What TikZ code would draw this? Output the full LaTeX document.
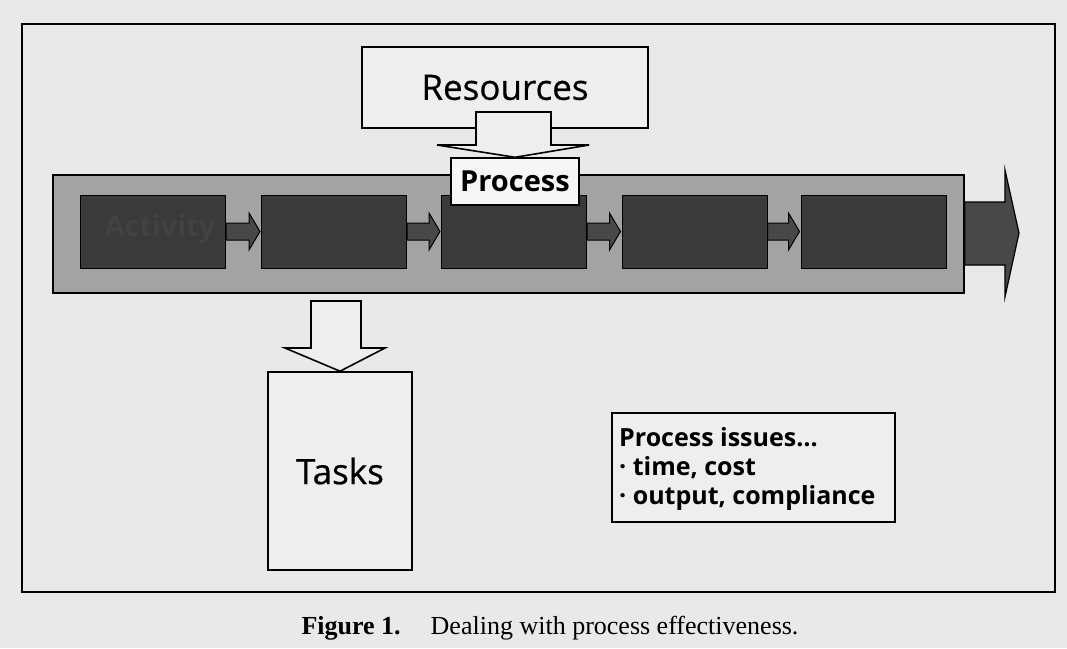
\documentclass[tikz,border=0pt]{standalone}
\usepackage{fontspec}
\setmainfont{Liberation Serif}
\newfontfamily\diagfont{Open Sans}
\newfontfamily\diagfontheavy[FakeBold=0.6]{Open Sans}
\usetikzlibrary{calc}
\definecolor{paper}{RGB}{233,233,233}
\definecolor{boxfill}{RGB}{238,238,238}
\definecolor{procfill}{RGB}{246,246,246}
\definecolor{bandgray}{RGB}{163,163,163}
\definecolor{darkbox}{RGB}{58,58,58}
\definecolor{darkarrow}{RGB}{72,72,72}
\definecolor{faint}{RGB}{66,66,66}
\tikzset{
  whitebox/.style={draw=black, line width=1.6pt, fill=boxfill, inner sep=0pt},
  actbox/.style={draw=black, line width=1pt, fill=darkbox, minimum width=145pt, minimum height=73pt, inner sep=0pt},
  darkarr/.style={draw=black, line width=1pt, fill=darkarrow, line join=miter},
  hollowarr/.style={draw=black, line width=1.6pt, fill=boxfill, line join=miter},
  big/.style={font=\diagfontheavy\fontsize{35}{40}\selectfont},
}
\begin{document}
\begin{tikzpicture}[x=1pt,y=-1pt]
\useasboundingbox (0,0) rectangle (1067,648);
\fill[paper] (0,0) rectangle (1067,648);
% outer frame
\draw[line width=2pt] (22,24) rectangle (1055,592);
% band
\node[draw=black, line width=1.4pt, fill=bandgray, minimum width=911pt, minimum height=118pt, inner sep=0pt] (band) at (508.5,234) {};
% activity boxes
\node[actbox] (a1) at (153,231.5) {};
\node[actbox] (a2) at (334,231.5) {};
\node[actbox] (a3) at (514,231.5) {};
\node[actbox] (a4) at (694.5,231.5) {};
\node[actbox] (a5) at (873.5,231.5) {};
\node[font=\diagfont\bfseries\fontsize{29}{30}\selectfont, text=faint] (acttext) at (160,229) {Activity};
% small arrows between boxes
\foreach \p/\q in {a1/a2,a2/a3,a3/a4,a4/a5}{
  \draw[darkarr] ($(\p.east)+(0,-8.5)$) -- ($(\q.west)+(-12,-8.5)$) -- ($(\q.west)+(-12,-18.5)$)
    -- ($(\q.west)+(-1,0)$) -- ($(\q.west)+(-12,18.5)$) -- ($(\q.west)+(-12,8.5)$) -- ($(\p.east)+(0,8.5)$) -- cycle;
}
% big output arrow
\coordinate (outtip) at (1019,233);
\draw[darkarr, line width=1.2pt] ($(band.east)+(0,-32)$) -- (1005,202) -- (1005,170) -- (outtip)
  -- (1005,297) -- (1005,265) -- ($(band.east)+(0,31)$) -- cycle;
% resources
\node[whitebox, minimum width=286pt, minimum height=81pt, big] (res) at (505,87.5) {Resources};
% process label
\node[draw=black, line width=1.4pt, fill=procfill, minimum width=128pt, minimum height=47pt, inner sep=0pt,
      font=\diagfont\bfseries\fontsize{29}{30}\selectfont] (proc) at (515,181.5) {Process};
% hollow arrow resources -> process
\draw[hollowarr] (476,112) -- (551,112) -- (551,145) -- (589,145) -- (proc.north) -- (437,145) -- (476,145) -- cycle;
% tasks
\node[whitebox, minimum width=144pt, minimum height=198pt, big] (tasks) at (340,471) {Tasks};
% hollow arrow band -> tasks
\draw[hollowarr] (311,301) -- (361,301) -- (361,348) -- (385,348) -- (tasks.north) -- (285,348) -- (311,348) -- cycle;
% process issues
\node[whitebox, minimum width=283pt, minimum height=109pt] (issues) at (753.5,467.5) {};
\node[anchor=west, align=left, inner sep=0pt, font=\diagfont\bfseries\fontsize{25}{29}\selectfont] (issuestext) at (619,469)
  {Process issues…\\· time, cost\\· output, compliance};
% caption
\node[font=\fontsize{26}{30}\selectfont] (caption) at (550,628) {\textbf{Figure 1.}\hspace{30pt}Dealing with process effectiveness.};
\end{tikzpicture}
\end{document}
